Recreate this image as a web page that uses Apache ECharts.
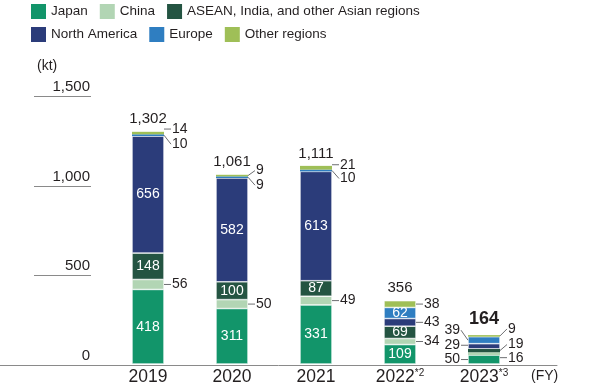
<!DOCTYPE html>
<html>
<head>
<meta charset="utf-8">
<script src="https://cdn.jsdelivr.net/npm/echarts@6/dist/echarts.min.js"></script>
<style>html,body{margin:0;padding:0;background:#fff}#c{width:600px;height:386px}</style>
</head>
<body>
<div id="c"></div>
<script>
// ---- data ----
const categories = ['2019', '2020', '2021', '2022', '2023'];
const yearNotes = ['', '', '', '*2', '*3'];
const japan = [418, 311, 331, 109, 50];
const china = [56, 50, 49, 34, 16];
const asean = [148, 100, 87, 69, 19];
const northAmerica = [656, 582, 613, 43, 29];
const europe = [10, 9, 10, 62, 39];
const otherRegions = [14, 9, 21, 38, 9];
const totals = [1302, 1061, 1111, 356, 164];
const yTicks = [0, 500, 1000, 1500];

// ---- layout / style ----
const FONT = 'Liberation Sans, Arial, sans-serif';
const TXT = '#231f20';
const BAR_W = 32;
const seriesDefs = [
  { name: 'Japan', data: japan, color: '#12956a' },
  { name: 'China', data: china, color: '#b2d5b4' },
  { name: 'ASEAN, India, and other Asian regions', data: asean, color: '#245442' },
  { name: 'North America', data: northAmerica, color: '#2b3c7a' },
  { name: 'Europe', data: europe, color: '#2f7ec1' },
  { name: 'Other regions', data: otherRegions, color: '#9fbf57' }
];
// label placement per series per year: 'in' = inside the bar, otherwise side + vertical offset (px)
const placement = [
  ['in', 'in', 'in', 'in', { s: -1, dy: 0 }],
  [{ s: 1, dy: 0 }, { s: 1, dy: 0 }, { s: 1, dy: 0 }, { s: 1, dy: 0 }, { s: 1, dy: 4 }],
  ['in', 'in', 'in', 'in', { s: 1, dy: -6 }],
  ['in', 'in', 'in', { s: 1, dy: 0 }, { s: -1, dy: -1 }],
  [{ s: 1, dy: 9 }, { s: 1, dy: 8 }, { s: 1, dy: 8 }, 'in', { s: -1, dy: -10 }],
  [{ s: 1, dy: -4 }, { s: 1, dy: -5 }, { s: 1, dy: -3 }, { s: 1, dy: 0 }, { s: 1, dy: -7 }]
];

// annotations built from the data arrays
const annots = [];
categories.forEach((c, i) => {
  let cum = 0;
  seriesDefs.forEach((sd, k) => {
    const v = sd.data[i];
    const p = placement[k][i];
    if (p !== 'in') annots.push({ x: i, anchor: cum + v / 2, dy: p.dy, sign: p.s, text: String(v), kind: 'side' });
    cum += v;
  });
  annots.push({ x: i, anchor: cum, text: totals[i].toLocaleString('en-US'), kind: 'total', big: i === categories.length - 1 });
});

const barSeries = seriesDefs.map((sd, k) => ({
  name: sd.name,
  type: 'bar',
  stack: 'total',
  xAxisIndex: 0,
  yAxisIndex: 0,
  barWidth: BAR_W,
  itemStyle: { color: sd.color },
  emphasis: { disabled: true },
  data: sd.data.map((v, i) => ({
    value: v,
    itemStyle: v >= 25 ? { borderColor: '#ffffff', borderWidth: 0.6 } : { borderWidth: 0 },
    label: { show: placement[k][i] === 'in' }
  })),
  label: {
    position: 'inside',
    color: '#ffffff',
    fontSize: 14,
    fontFamily: FONT,
    formatter: p => String(p.value)
  }
}));

const annotSeries = {
  type: 'custom',
  xAxisIndex: 0,
  yAxisIndex: 0,
  clip: false,
  silent: true,
  z: 10,
  data: annots.map(a => [a.x, a.anchor]),
  encode: { x: 0, y: 1 },
  renderItem: function (params, api) {
    const a = annots[params.dataIndex];
    const pt = api.coord([a.x, a.anchor]);
    if (a.kind === 'total') {
      return {
        type: 'text',
        style: {
          x: pt[0], y: pt[1] - (a.big ? 7 : 5),
          text: a.text, align: 'center', verticalAlign: 'bottom',
          fontSize: a.big ? 18 : 15, fontWeight: a.big ? 'bold' : 'normal',
          fontFamily: FONT, fill: TXT
        }
      };
    }
    const ex = pt[0] + a.sign * BAR_W / 2;
    const ly = pt[1] + a.dy;
    const y0 = Math.abs(a.dy) <= 4 ? ly : pt[1];
    return {
      type: 'group',
      children: [
        { type: 'line', shape: { x1: ex, y1: y0, x2: ex + a.sign * 7, y2: ly }, style: { stroke: '#6d6e71', lineWidth: 1 } },
        {
          type: 'text',
          style: {
            x: ex + a.sign * 8, y: ly, text: a.text,
            align: a.sign > 0 ? 'left' : 'right', verticalAlign: 'middle',
            fontSize: 14, fontFamily: FONT, fill: TXT
          }
        }
      ]
    };
  }
};

const legendCommon = {
  icon: 'rect', itemWidth: 15, itemHeight: 15, itemGap: 12, padding: 0, left: 31,
  selectedMode: false,
  textStyle: { fontSize: 13.5, color: TXT, fontFamily: FONT }
};

const chart = echarts.init(document.getElementById('c'), null, { renderer: 'canvas' });
chart.setOption({
  animation: false,
  backgroundColor: '#ffffff',
  title: { text: '(kt)', left: 37, top: 59, padding: 0, textStyle: { fontSize: 14, fontWeight: 'normal', color: TXT, fontFamily: FONT } },
  legend: [
    Object.assign({}, legendCommon, { top: 4, data: seriesDefs.slice(0, 3).map(s => s.name) }),
    Object.assign({}, legendCommon, { top: 27, data: seriesDefs.slice(3).map(s => s.name) })
  ],
  grid: [
    { left: 106, right: 74, top: 96.5, bottom: 21 },
    { left: 34, width: 57, top: 96.5, bottom: 21 },
    { left: 0, width: 557, top: 96.5, bottom: 21 }
  ],
  xAxis: [
    {
      gridIndex: 0, type: 'category', data: categories,
      axisLine: { show: false }, axisTick: { show: false },
      axisLabel: {
        margin: 4, interval: 0, hideOverlap: false,
        formatter: (v, i) => '{y|' + v + '}' + (yearNotes[i] ? '{s|' + yearNotes[i] + '}' : ''),
        rich: {
          y: { fontSize: 17.5, color: TXT, fontFamily: FONT },
          s: { fontSize: 10, color: TXT, fontFamily: FONT, verticalAlign: 'top' }
        }
      },
      name: '(FY)', nameLocation: 'end', nameGap: 5,
      nameTextStyle: { fontSize: 14, color: TXT, fontFamily: FONT, verticalAlign: 'top', align: 'left', padding: [5, 0, 0, 0] }
    },
    { gridIndex: 1, type: 'value', show: false },
    {
      gridIndex: 2, type: 'value', min: 0, max: 1,
      axisLine: { show: true, lineStyle: { color: '#8a8a8a', width: 1 } },
      axisTick: { show: false }, axisLabel: { show: false }, splitLine: { show: false }
    }
  ],
  yAxis: [
    { gridIndex: 0, type: 'value', min: 0, max: yTicks[yTicks.length - 1], interval: 500, show: false },
    {
      gridIndex: 1, type: 'value', position: 'right',
      min: yTicks[0], max: yTicks[yTicks.length - 1], interval: yTicks[1] - yTicks[0],
      axisLine: { show: false }, axisTick: { show: false },
      axisLabel: {
        inside: true, margin: 1, align: 'right', verticalAlign: 'bottom', padding: [0, 0, 2, 0],
        fontSize: 15, color: TXT, fontFamily: FONT,
        formatter: v => yTicks.indexOf(v) >= 0 ? v.toLocaleString('en-US') : ''
      },
      splitLine: { show: true, lineStyle: { color: '#8a8a8a', width: 1 } }
    },
    { gridIndex: 2, type: 'value', min: 0, max: 1, show: false }
  ],
  series: barSeries.concat([annotSeries])
});
</script>
</body>
</html>
